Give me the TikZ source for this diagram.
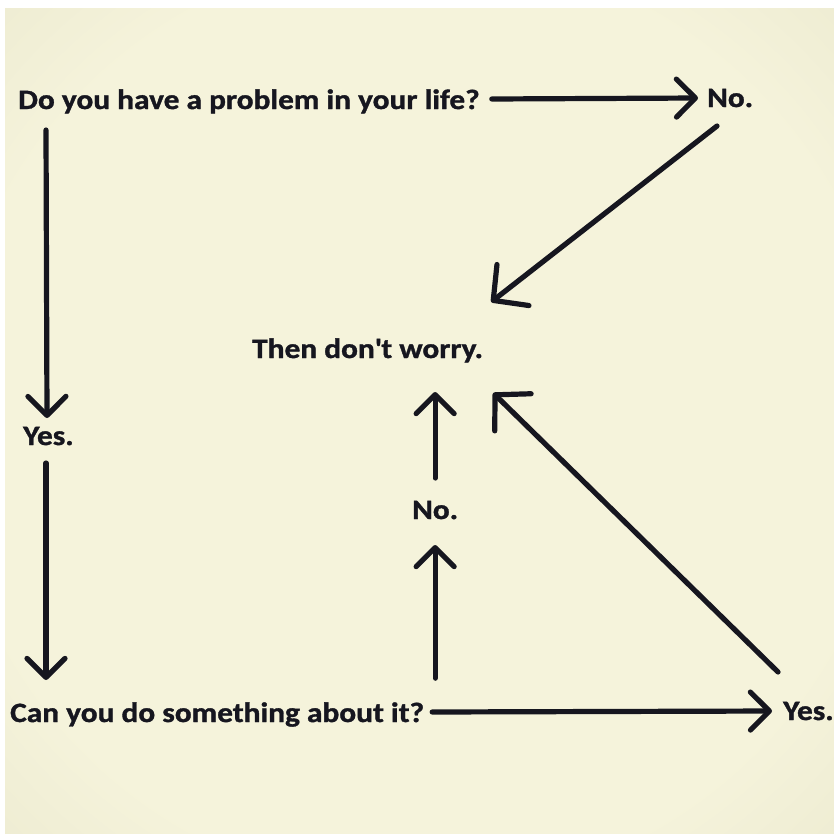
\documentclass[tikz,border=0pt]{standalone}
\usepackage{fontspec}
\setmainfont{Carlito}[FakeStretch=1.12,FakeBold=1.2]
\usetikzlibrary{arrows.meta,calc}
\definecolor{ink}{HTML}{16161F}
\definecolor{paperin}{HTML}{F5F3DB}
\definecolor{paperedge}{HTML}{E6E4C8}
\definecolor{paperout}{HTML}{BDBAA3}
\pgfdeclareradialshading{paperr}{\pgfpoint{0bp}{0bp}}{color(0bp)=(paperin); color(28bp)=(paperin); color(46bp)=(paperedge); color(72bp)=(paperout)}
\begin{document}
\begin{tikzpicture}[x=1pt,y=-1pt,
  lbl/.style={font=\bfseries\fontsize{28}{30}\selectfont, text=ink, inner sep=0pt, anchor=base west},
  arr/.style={draw=ink, line width=5.2pt, line cap=round, line join=round, -{Straight Barb[length=19pt,width=38pt,round]}},
  darr/.style={arr, -{Straight Barb[length=25pt,width=52pt,round]}}]
\useasboundingbox (0,0) rectangle (834,833);
\fill[white] (0,0) rectangle (834,833);
\shade[shading=paperr] (5,8) rectangle (834,833);

\node[lbl] (q1) at (18,109) {Do you have a problem in your life?};
\node[lbl] (no1) at (707,107) {No.};
\node[lbl] (dw) at (252,358) {Then don\textquotesingle t worry.};
\node[lbl] (yes1) at (23,445) {Yes.};
\node[lbl] (q2) at (10,722) {Can you do something about it?};
\node[lbl] (no2) at (412,519) {No.};
\node[lbl] (yes2) at (783,720) {Yes.};

\draw[arr] ($(q1.base east)+(12,-10)$) -- ($(no1.base west)+(-9,-9)$);
\draw[darr] ($(no1.base west)+(10,19)$) -- ($(dw.base east)+(8,-56)$);
\draw[arr] ($(q1.base west)+(28,21)$) -- ($(yes1.base west)+(24,-27)$);
\draw[arr] ($(yes1.base west)+(23,18)$) -- ($(q2.base west)+(36,-42)$);
\draw[arr] ($(q2.base east)+(8,-10)$) -- ($(yes2.base west)+(-11,-9)$);
\draw[arr] ([yshift=24pt]no2.base |- q2.north) -- ([yshift=-26pt]no2.base);
\draw[arr] ([yshift=41pt]no2.base) -- ([yshift=-34pt]no2.base |- dw.base);
\draw[darr] ($(yes2.base west)+(-5,-48)$) -- ($(dw.base east)+(10,35)$);
\end{tikzpicture}
\end{document}
